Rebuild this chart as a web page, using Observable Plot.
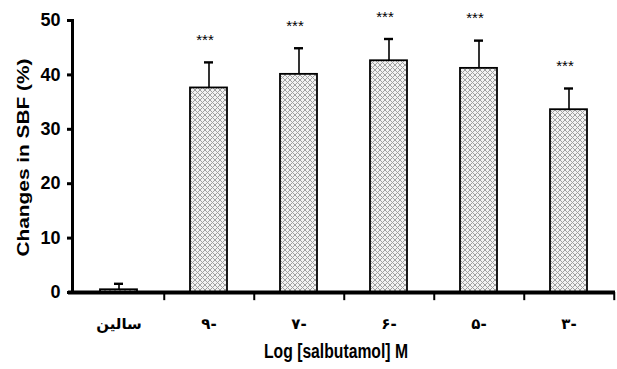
<!DOCTYPE html>
<html><head><meta charset="utf-8">
<script src="https://cdn.jsdelivr.net/npm/d3@7"></script>
<script src="https://cdn.jsdelivr.net/npm/@observablehq/plot@0.6"></script>
<style>
body{margin:0;background:#fff;}
svg{font-family:"Liberation Sans",Arial,sans-serif;}
</style></head><body>
<div id="chart"></div>
<script>
const categories = ["سالین", "۹-", "۷-", "۶-", "۵-", "۳-"];
const values = [0.5, 37.6, 40.1, 42.6, 41.2, 33.6];
const errors = [1.1, 4.7, 4.8, 4.0, 5.1, 3.9];
const stars = ["", "***", "***", "***", "***", "***"];
const yTicks = [0, 10, 20, 30, 40, 50];
const yTitle = "Changes in SBF (%)";
const xTitle = "Log [salbutamol] M";

const data = categories.map((c, i) => ({cat: c, v: values[i], e: errors[i], top: values[i] + errors[i], star: stars[i]}));

const chart = Plot.plot({
  width: 617, height: 369,
  marginLeft: 72, marginRight: 2, marginTop: 20, marginBottom: 77,
  style: {background: "#fff", overflow: "visible"},
  x: {domain: categories, paddingInner: 0.59, paddingOuter: 0.295, axis: null},
  y: {domain: [0, 50], axis: null},
  marks: [
    Plot.barY(data, {x: "cat", y: "v", fill: "url(#hatch)", stroke: "#000", strokeWidth: 1.8}),
    Plot.ruleX(data, {x: "cat", y1: "v", y2: "top", stroke: "#000", strokeWidth: 1.6}),
    Plot.tickY(data, {x: "cat", y: "top", stroke: "#000", strokeWidth: 2.4, insetLeft: 14, insetRight: 14}),
    Plot.text(data, {x: "cat", y: "top", text: "star", dy: -22, dx: -4, fontSize: 15, fill: "#000"}),
    Plot.axisY({ticks: yTicks, tickSize: 5, strokeWidth: 3, tickPadding: 7, fontSize: 18, fontWeight: "bold", fill: "#000", label: null}),
    Plot.axisX({tickSize: 0, tickPadding: 26, fontSize: 15, fontWeight: "bold", fill: "#000", label: null, fontFamily: "DejaVu Sans, sans-serif"}),
    Plot.ruleX(data, {x: "cat", dx: 45.25, y1: 0, y2: -1.5, stroke: "#000", strokeWidth: 2}),
    Plot.frame({anchor: "left", stroke: "#000", strokeWidth: 3}),
    Plot.ruleY([0], {stroke: "#000", strokeWidth: 4, insetLeft: -4}),
    Plot.text([yTitle], {frameAnchor: "left", textAnchor: "middle", dx: -49, dy: 1, rotate: -90, fontSize: 16, fontWeight: "bold", fill: "#000"}),
    Plot.text([xTitle], {frameAnchor: "bottom", dy: 65, dx: -8, fontSize: 20, fontWeight: "bold", fill: "#000"})
  ]
});

const ns = "http://www.w3.org/2000/svg";
const defs = document.createElementNS(ns, "defs");
defs.innerHTML = `<pattern id="hatch" width="5" height="5" patternUnits="userSpaceOnUse">
  <rect width="5" height="5" fill="#f2f2f2"/>
  <path d="M0,0 L5,5 M5,0 L0,5" stroke="#a0a0a0" stroke-width="1"/>
</pattern>`;
chart.insertBefore(defs, chart.firstChild);
// emulate the condensed/stretched lettering of the original
chart.querySelectorAll("text").forEach(t => {
  if (t.textContent === yTitle) { t.setAttribute("textLength", 198); t.setAttribute("lengthAdjust", "spacingAndGlyphs"); }
  if (t.textContent === xTitle) { t.setAttribute("textLength", 144); t.setAttribute("lengthAdjust", "spacingAndGlyphs"); }
});
document.getElementById("chart").appendChild(chart);
</script>
</body></html>
